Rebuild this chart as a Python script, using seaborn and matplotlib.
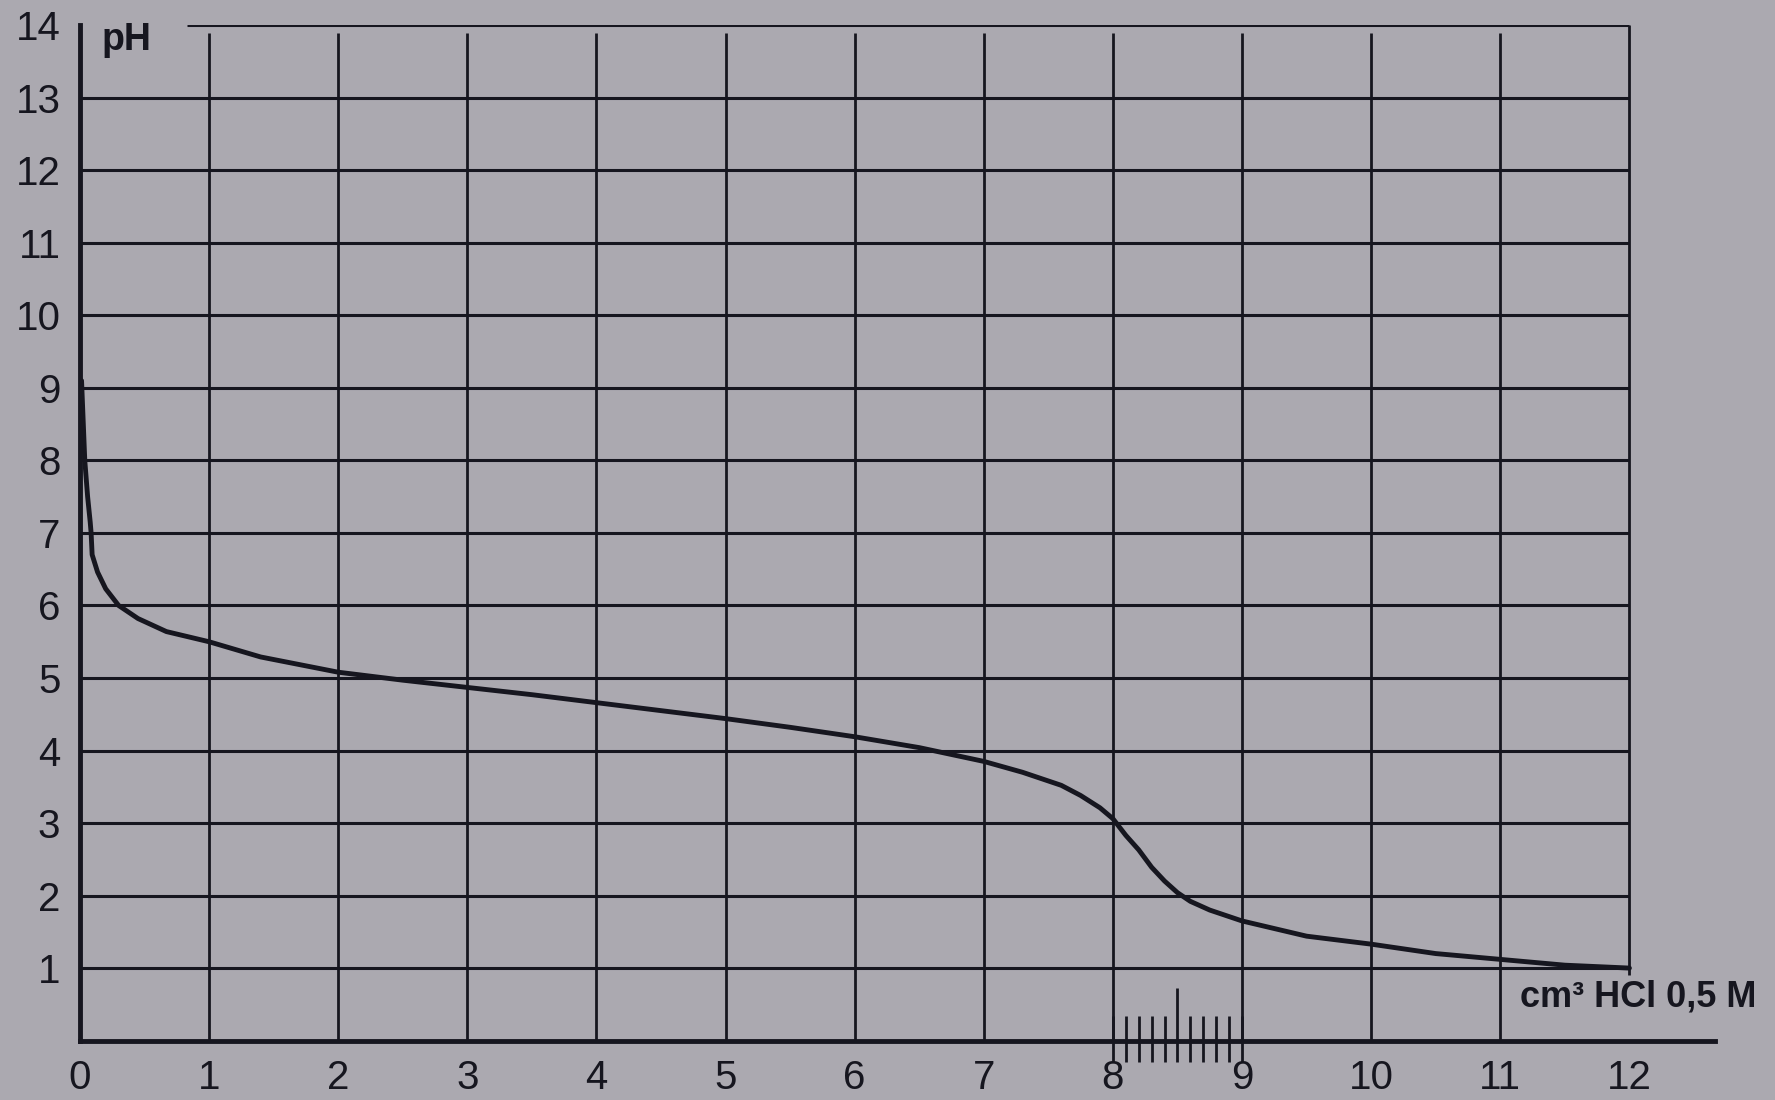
"""
Titration curve: pH against added volume of 0.5 M HCl, drawn on grid paper.
"""

import pandas as pd
import matplotlib
matplotlib.use("Agg")
import matplotlib.pyplot as plt
import seaborn as sns

# values
volume_cm3 = [0.013, 0.038, 0.06, 0.08, 0.087, 0.095, 0.137, 0.2, 0.3, 0.45,
              0.67, 1.0, 1.4, 2.0, 2.5, 3.0, 3.5, 4.0, 4.5, 5.0, 5.5, 6.0,
              6.5, 7.0, 7.3, 7.6, 7.75, 7.9, 8.0, 8.1, 8.2, 8.3, 8.4, 8.5,
              8.6, 8.75, 9.0, 9.5, 10.0, 10.5, 11.0, 11.5, 12.0]
ph_values = [9.1, 8.0, 7.5, 7.15, 7.0, 6.7, 6.46, 6.23, 6.0, 5.82,
             5.64, 5.5, 5.29, 5.08, 4.97, 4.87, 4.77, 4.66, 4.55, 4.44, 4.32, 4.19,
             4.04, 3.85, 3.7, 3.52, 3.38, 3.21, 3.06, 2.83, 2.63, 2.39, 2.2, 2.04,
             1.92, 1.8, 1.65, 1.44, 1.33, 1.2, 1.12, 1.04, 1.0]

x_ticks = list(range(0, 13))
y_ticks = list(range(1, 15))
fine_ticks = [8.1, 8.2, 8.3, 8.4, 8.6, 8.7, 8.8, 8.9]  # 0.1 subdivisions between 8 and 9
half_tick = 8.5

PAPER = "#aba9b0"
INK = "#16161f"

sns.set_style("white", {"axes.facecolor": PAPER, "figure.facecolor": PAPER})
plt.rcParams["font.family"] = ["Liberation Sans", "DejaVu Sans"]

df = pd.DataFrame({"volume": volume_cm3, "pH": ph_values})

fig = plt.figure(figsize=(17.75, 11), dpi=100)
ax = fig.add_axes([0.045, 0.054, 0.921, 0.923])

# grid paper
ax.hlines(y_ticks[:-1], 0, 12, color=INK, lw=2.2, zorder=1)
ax.hlines(y_ticks[-1], 0.83, 12, color=INK, lw=2.2, zorder=1)
ax.vlines(x_ticks[1:-1], 0, 13.9, color=INK, lw=2.0, zorder=1)
ax.vlines(x_ticks[-1], 0.9, 14, color=INK, lw=2.0, zorder=1)

# fine scale between 8 and 9
ax.vlines(fine_ticks + [8, 9], -0.3, 0.34, color=INK, lw=2.0, zorder=2, clip_on=False)
ax.vlines(half_tick, -0.3, 0.73, color=INK, lw=2.0, zorder=2, clip_on=False)

sns.lineplot(data=df, x="volume", y="pH", ax=ax, color=INK, lw=3.5,
             sort=False, estimator=None, zorder=3)

ax.set_xlim(0, 12.66)
ax.set_ylim(0, 14)
ax.set_xticks(x_ticks)
ax.set_yticks(y_ticks)
ax.tick_params(length=0, labelsize=29, colors=INK)
ax.tick_params(axis="x", pad=13)
ax.tick_params(axis="y", pad=14)
ax.set_xlabel("")
ax.set_ylabel("")

for side in ["top", "right"]:
    ax.spines[side].set_visible(False)
for side in ["left", "bottom"]:
    ax.spines[side].set_color(INK)
    ax.spines[side].set_linewidth(3.5)

ax.text(0.17, 13.8, "pH", fontsize=27, fontweight="bold", color=INK,
        ha="left", va="center")
ax.text(11.15, 0.6, "cm³ HCl 0,5 M", fontsize=26, fontweight="bold", color=INK,
        ha="left", va="center", clip_on=False)

fig.savefig("out.png", dpi=100, facecolor=PAPER)
